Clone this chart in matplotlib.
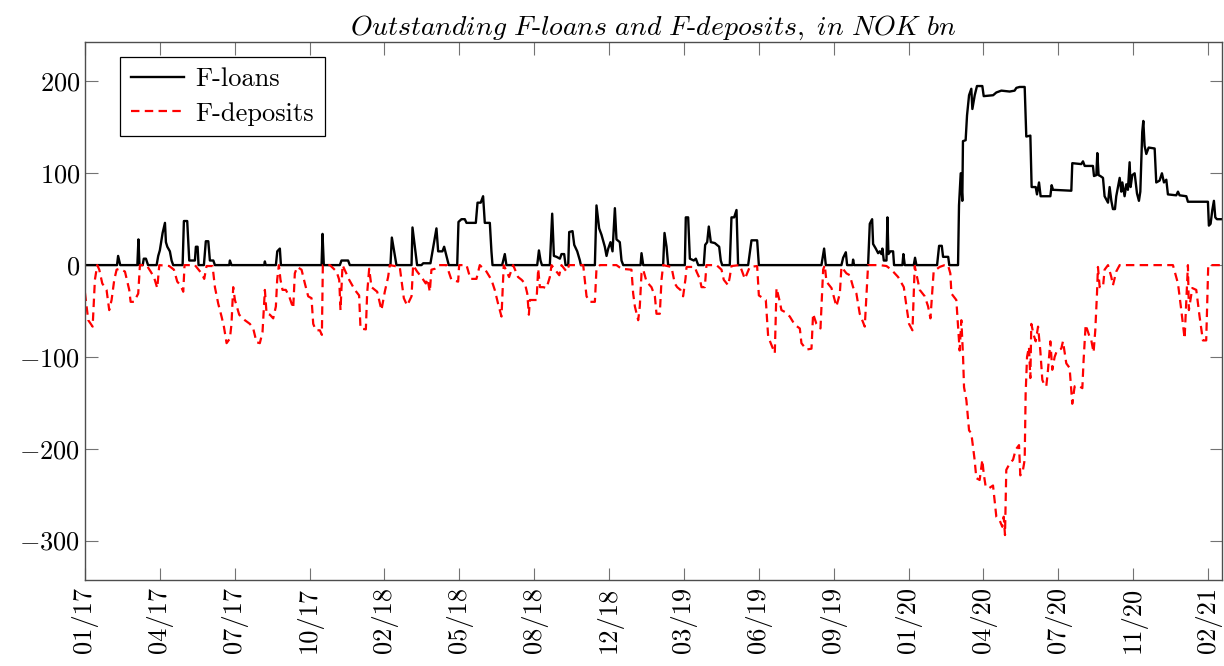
import matplotlib
matplotlib.use("Agg")
import matplotlib.pyplot as plt

plt.rcParams['font.family'] = 'cmr10'
plt.rcParams['mathtext.fontset'] = 'cm'
plt.rcParams['axes.formatter.use_mathtext'] = True

# x = business-day index of observation, ticks every 70 observations
tick_labels = ['01/17', '04/17', '07/17', '10/17', '02/18', '05/18', '08/18', '12/18',
               '03/19', '06/19', '09/19', '01/20', '04/20', '07/20', '11/20', '02/21']
tick_step = 70
n_obs = 1063

loans_t = [0, 30, 31, 33, 49, 50, 51, 54, 55, 57, 59, 67, 68.5, 70, 72.6, 74.8, 75.7, 77, 79.4, 81, 82.5,
           91.3, 92.5, 95.6, 97.5, 102.8, 103.7, 105.3, 106.2, 111.2, 113, 115.3, 116.8, 120, 121.5,
           134.9, 135.5, 137, 167.6, 168.2, 169, 178.5, 179.8, 182.2, 183.2,
           221.2, 222.1, 223.3, 238.3, 239.8, 246, 247.6, 285.6, 286.9, 289.7, 291.2,
           305.3, 306.2, 308.4, 310.5, 314.6, 316.2, 323, 324.6, 327, 328.6, 330.2, 334.2, 335.8, 338, 340.1,
           348, 349.2, 352, 355.1, 356.7, 365.4, 367, 370, 372.2, 373.8, 378.5, 380, 381, 390, 392.5, 394,
           422.8, 424.4, 425.9, 427.2, 434.6, 436.8, 438.4, 440.9, 444, 445.5, 448, 449.3,
           451.8, 452.7, 455.8, 457.4, 460.2, 462.7, 463.6, 476.7, 478.2, 480.7, 482.9, 486, 487.6,
           489.2, 491.3, 493.2, 495.4, 496.9, 500, 501.6, 503.2, 519.4, 520.3, 521.9, 540.5, 541.8,
           543.7, 545.2, 560.8, 561.7, 563.9, 565.5, 569.2, 571.1, 573.3, 578.5, 579.8, 581.7, 583.2,
           585.1, 588.8, 592.9, 594.4, 595.7, 602.8, 604.4, 606.9, 609.1, 610.6,
           620, 623.1, 628.4, 630, 688.5, 691, 692.6, 707.2, 708.8, 711.3, 712.5, 717.5, 718.1, 719,
           732.1, 733.7, 735.9, 736.8, 739.3, 741.5, 743, 744.6, 745.5, 746.8, 749.3, 750.2, 751.1,
           753, 755.5, 756.4, 764.2, 765.1, 766.4, 774.8, 776, 777.3,
           796.6, 798.5, 801, 802.2, 807, 808, 816.2, 817.1, 818.7, 820.2, 820.8, 823.3, 824.6, 826.5,
           828.6, 829.6, 831.8, 833.9, 838.9, 840.2, 849, 852, 856.7, 864.5, 869.1, 870.7, 873.8, 878.5,
           880, 883.8, 885, 888.8, 890, 891.9, 893.4, 902.5, 903.7, 905, 922.1, 923, 931.4, 933, 934.6,
           942.3, 943.3, 945.5, 946.4, 947.6, 949.2, 951.7, 953.2, 956.4, 957.9, 959.5, 961, 962.9,
           964.1, 965.7, 967.3, 968.8, 969.8, 971.9, 973.5, 975, 976.6, 977.5, 979.1, 981.3, 983.5,
           985.3, 986.6, 988.4, 989.4, 990.6, 992.2, 994.4, 1000, 1001.5, 1004.6, 1006.8, 1008.7,
           1010.9, 1012.4, 1020.2, 1021.8, 1023.3, 1029.6, 1031.1, 1049.8, 1050.7, 1052.3, 1053.9,
           1055.4, 1056.7, 1058.2, 1062.5]
loans_v = [0, 0, 10, 0, 0, 28, 0, 0, 7, 7, 0, 0, 10, 16, 35, 46, 25, 20, 15, 5, 0,
           0, 48, 48, 5, 5, 20, 20, 0, 0, 26, 26, 5, 5, 0,
           0, 5, 0, 0, 4, 0, 0, 15, 18, 0,
           0, 34, 0, 0, 5, 5, 0, 0, 30, 10, 0,
           0, 41, 20, 0, 0, 2, 2, 13, 30, 40, 15, 15, 20, 10, 0,
           0, 47, 50, 50, 46, 46, 68, 68, 75, 46, 46, 15, 0, 0, 12, 0,
           0, 16, 5, 0, 0, 56, 10, 9, 7, 12, 12, 0,
           0, 36, 37, 22, 15, 5, 0, 0, 65, 40, 33, 20, 10,
           18, 25, 15, 62, 28, 25, 5, 0, 0, 13, 0, 0, 35,
           20, 0, 0, 52, 52, 7, 5, 7, 0, 0, 22, 25, 42,
           25, 24, 20, 5, 0, 0, 52, 52, 60, 0,
           0, 27, 27, 0, 0, 18, 0, 0, 8, 14, 0, 0, 6, 0,
           0, 45, 50, 23, 18, 13, 15, 12, 18, 5, 5, 52, 12,
           15, 15, 0, 0, 12, 0, 0, 8, 0,
           0, 21, 21, 9, 9, 0, 0, 65, 100, 70, 135, 136, 163, 185,
           192, 170, 185, 195, 195, 184, 185, 188, 190, 189, 190, 193, 194, 194,
           140, 141, 85, 85, 77, 90, 75, 75, 87, 82, 81, 111, 110, 113, 108,
           108, 97, 98, 122, 98, 97, 95, 75, 68, 85, 70, 61, 61,
           75, 85, 95, 80, 90, 75, 88, 82, 112, 85, 98, 100, 78,
           70, 80, 145, 157, 130, 121, 128, 127, 90, 92, 100, 90,
           93, 77, 76, 80, 76, 75, 69, 69, 43, 45, 60,
           70, 52, 50, 50]

dep_t = [0, 3.1, 7.2, 9.3, 11.5, 13.4, 16.2, 20.2, 22.7, 24.9, 27.4, 29.6, 32.1, 37.4, 41.4, 42.7, 45.8,
         49.8, 51.4, 57.6, 61.4, 64.5, 67.6, 69.5, 78.8, 83.2, 86.3, 89.4, 91.9, 93.1, 102.8, 109, 111.5,
         113.7, 119.3, 121.5, 124.6, 127.7, 129.9, 132.4, 135.5, 137, 138.6, 140.2, 144.2, 149.5, 154.2,
         157.3, 160.4, 163.5, 166, 168.2, 169.8, 172.9, 176, 178.5, 179.7, 181.3, 182.8, 184.7, 187.8,
         190.9, 194.7, 196.2, 198.4,
         202.5, 205.6, 208.7, 211.8, 213.4, 215.9, 219.6, 221.5, 222.4, 229, 235.2, 237.7, 238.9, 240.8,
         247, 252.3, 256.3, 257.6, 262.6, 263.8, 265.7, 267.9, 273.2, 277.2, 280.3, 283.4, 285, 294.3,
         295.9, 298.1, 301.2, 305.3, 306.8, 310.5, 314.6, 318.6, 320.2, 322.4, 323.9, 327.1, 330.2, 338,
         342.6, 348.9, 349.8, 356.7, 360.4, 366, 369.1, 375.3, 380, 383.1, 386.2, 389.4, 391.5, 396.5,
         400.3, 404.9, 408.2, 411.3, 413.5, 415, 415.9, 422.2, 423.7, 425.3, 428.4, 431.5, 434.6, 436.2,
         443.4, 445.5, 450.2, 452.7, 465.8, 467.3, 468.9, 472, 476.7, 478.2, 481.4, 496.9, 501.6, 510.9,
         512.5, 514.1, 517.2, 518.7, 520.3, 521.9, 525, 529.6, 532.8, 534.3, 537.4, 539, 540.5, 548.3,
         551.4, 553.6, 556.7, 559.2, 561.4, 562.4, 570.1, 571.7, 574.8, 576.4, 579.5, 581, 590.4, 595.1,
         597.2, 601.3, 602.8, 604.4, 612.2, 616.9, 621.5, 628.4, 630, 634, 636.5, 638.7, 641.8, 644.9,
         646.5, 649.6, 651.1, 654.3, 658.9, 663.6, 668.3, 669.8, 674.5, 679.2, 680.7, 683.8, 687.6,
         690.1, 691.6, 693.2, 697.9, 702.5, 705.7, 707.2, 711.9, 715, 718.1, 721.2, 724.3, 729, 732.1,
         743, 749.3, 753.9, 760.2, 765.5, 768, 770.4, 773.6, 775.7, 780.4, 785.1, 788.2, 790.4, 792.2,
         793.4, 799, 803.7, 806.8, 809, 810, 814.6, 816.2, 817.7, 819.3, 820.9, 821.8, 824, 826.5,
         828.6, 830.2, 831.7, 833.3, 836.4, 838.9, 840.2, 842, 845.1, 848.9, 850.4, 852, 855.1, 857.6,
         858.9, 860.1, 861.3, 864.5, 867.6, 870.1, 873.2, 874.4, 876.9, 878.5, 879.4, 880.7, 882.5,
         883.8, 884.7, 886.9, 888.8, 891, 893.1, 895, 897.2, 898.7, 900.3, 902.5, 904.3, 906.5, 908.7,
         912.7, 914.3, 917.4, 920.5, 923, 925.2, 928.3, 932.4, 933.6, 935.5, 938.6, 940.8, 942.9,
         944.5, 946.1, 947, 948.6, 951.7, 953.2, 956.4, 959.5, 961, 964.1, 967.3, 1017.1, 1021.8,
         1024.9, 1028, 1031.1, 1032, 1035.2, 1038.9, 1042, 1045.1, 1048.2, 1050.1, 1062.5]
dep_v = [-30, -60, -67, -16, 0, -5, -20, -27, -49, -38, -16, -5, -4, -7, -27, -40, -40,
         -31, 0, 0, -7, -13, -25, 0, -1, -5, -18, -22, -29, 0, 0, -9, -15,
         -1, -1, -24, -42, -56, -67, -85, -80, -64, -24, -38, -54, -60, -64,
         -69, -84, -85, -73, -27, -53, -54, -58, -45, -16, 0, -16, -27, -27,
         -34, -47, -9, -2,
         -5, -20, -34, -36, -64, -71, -71, -76, 0, 0, -7, -16, -49, 0,
         -16, -27, -33, -69, -70, -31, -4, -24, -29, -49, -29, -13, 0, -2,
         -16, -36, -44, -34, 0, -7, -13, -20, -15, -29, -5, -4, 0, 0,
         -16, -18, 0, 0, -15, -15, 0, -7, -16, -27, -42, -56, 0, -13,
         0, -13, -16, -20, -31, -54, -38, -38, -4, -24, -24, -25, -13, 0,
         -11, 0, -7, 0, 0, -16, -34, -40, -40, -4, 0, 0, -4, -5,
         -31, -45, -60, -45, -9, -5, -18, -24, -34, -53, -53, -16, 0, -2,
         -20, -24, -27, -34, -15, -2, -2, -7, -15, -24, -24, 0, 0, -5,
         -16, -22, -13, -1, 0, -15, -2, -1, -33, -36, -38, -78, -87, -96,
         -25, -40, -49, -51, -56, -65, -69, -85, -92, -91, -53, -64, -69,
         -5, 0, -18, -25, -45, -31, -2, -9, -11, -24, -31, -53, -67, 0,
         0, -1, -5, -13, -24, -45, -64, -71, -1, -27, -34, -45, -58, -27,
         -7, -2, 0, 0, -9, -31, -38, -67, -93, -60, -100, -133, -147, -180,
         -183, -198, -212, -232, -234, -212, -227, -241, -243, -240, -256, -274, -278, -285,
         -274, -294, -223, -216, -212, -201, -196, -229, -223, -212, -140, -100, -89,
         -123, -64, -76, -83, -67, -93, -125, -131, -132, -114, -83, -114, -100, -93,
         -91, -83, -107, -112, -151, -132, -131, -134, -103, -65, -76, -82, -95,
         -71, -31, -2, -24, -24, -5, 0, -13, -22, -7, 0, 0, -20,
         -49, -80, 0, -49, -25, -27, -56, -82, -82, 0, 0]

fig = plt.figure(figsize=(12.24, 6.66), dpi=100)
ax = fig.add_axes([0.0694, 0.129, 0.929, 0.808])

ax.plot(loans_t, loans_v, color='black', lw=1.7, label='F-loans')
ax.plot(dep_t, dep_v, color='red', lw=1.6, dashes=(3.8, 2.4), label='F-deposits')

ax.set_xlim(0, n_obs)
ax.set_ylim(-343, 243)
ax.set_xticks([i * tick_step for i in range(len(tick_labels))])
ax.set_xticklabels(tick_labels, rotation=90, fontsize=19)
ax.set_yticks([-300, -200, -100, 0, 100, 200])
ax.tick_params(axis='y', labelsize=19)
ax.tick_params(direction='in', top=True, right=True, length=9, width=0.8, color='0.45')
ax.tick_params(axis='x', pad=5)
for s in ax.spines.values():
    s.set_color('0.3')
    s.set_linewidth(1.0)

ax.set_title(r'$\mathit{Outstanding\ F}$-$\mathit{loans\ and\ F}$-$\mathit{deposits,\ in\ NOK\ bn}$',
             fontsize=20, pad=5)

leg = ax.legend(loc='upper left', bbox_to_anchor=(0.031, 0.972), borderaxespad=0,
                fontsize=19, fancybox=False, framealpha=1, edgecolor='black',
                handlelength=2.0, handletextpad=0.45, labelspacing=0.4, borderpad=0.4)
leg.get_frame().set_linewidth(0.9)

fig.savefig('out.png', dpi=100)
